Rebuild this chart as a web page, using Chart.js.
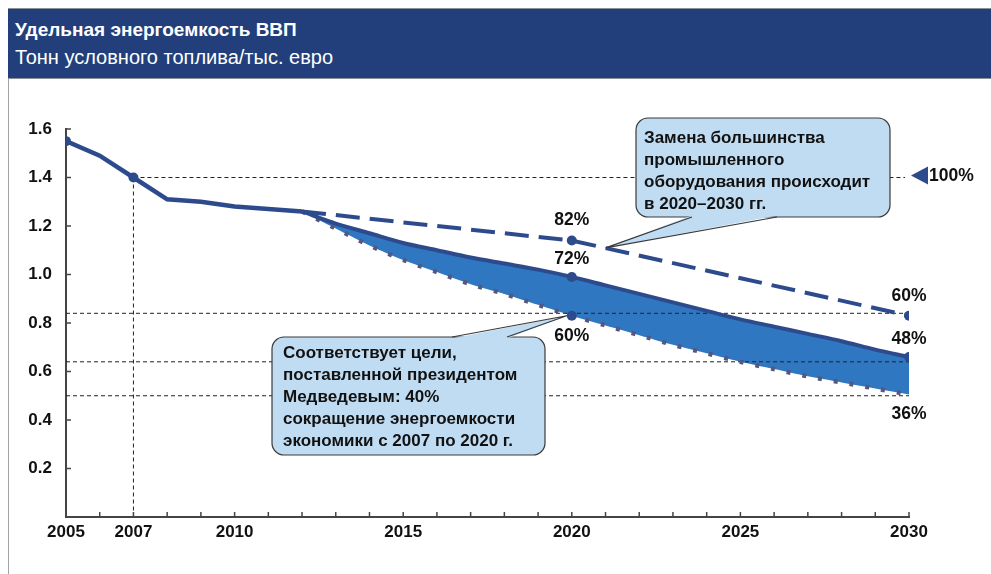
<!DOCTYPE html>
<html lang="ru">
<head>
<meta charset="utf-8">
<title>Удельная энергоемкость ВВП</title>
<script src="https://cdn.jsdelivr.net/npm/chart.js@4.4.1/dist/chart.umd.min.js"></script>
<style>
  body { margin: 0; background: #fff; font-family: "Liberation Sans", Arial, sans-serif; }
  #wrap { position: relative; width: 991px; height: 574px; overflow: hidden; }
  #chart { position: absolute; left: 0; top: 0; }
  #header {
    position: absolute; left: 8px; top: 8px; width: 983px; height: 69px;
    background: #223f7c; border-top: 1px solid #8c9099; border-bottom: 1px solid #8c9099;
    color: #fff;
  }
  #header .t { position: absolute; left: 7px; top: 10px; font-size: 19px; font-weight: bold; line-height: 22px; }
  #header .s { position: absolute; left: 7px; top: 36px; font-size: 20px; line-height: 24px; }
  #leftBorder { position: absolute; left: 8px; top: 79px; width: 1px; height: 495px; background: #a0a3a8; }
</style>
</head>
<body>
<div id="wrap">
  <canvas id="chart" width="991" height="574"></canvas>
  <div id="header">
    <div class="t">Удельная энергоемкость ВВП</div>
    <div class="s">Тонн условного топлива/тыс. евро</div>
  </div>
  <div id="leftBorder"></div>
</div>
<script>
// Data
const histYears = [2005, 2006, 2007, 2008, 2009, 2010, 2011, 2012];
const histValues = [1.55, 1.49, 1.40, 1.31, 1.30, 1.28, 1.27, 1.26];

const scenYears = [2012, 2013, 2014, 2015, 2016, 2017, 2018, 2019, 2020, 2021,
                   2022, 2023, 2024, 2025, 2026, 2027, 2028, 2029, 2030];
const highValues = [1.26, null, null, null, null, null, null, null, 1.14, null,
                    null, null, null, null, null, null, null, null, 0.83];
const midValues = [1.26, 1.21, 1.17, 1.13, 1.10, 1.07, 1.045, 1.02, 0.99, 0.955,
                   0.92, 0.885, 0.85, 0.815, 0.785, 0.755, 0.725, 0.69, 0.66];
const lowValues = [1.26, 1.19, 1.12, 1.06, 1.01, 0.96, 0.92, 0.875, 0.83, 0.79,
                   0.75, 0.71, 0.675, 0.64, 0.61, 0.58, 0.555, 0.53, 0.505];

const xLabels = [2005, 2007, 2010, 2015, 2020, 2025, 2030];
const yTicks = [0.2, 0.4, 0.6, 0.8, 1.0, 1.2, 1.4, 1.6];

// reference levels (dashed guides)
const baseYear = 2007;
const baseValue = 1.40;
const refLines = [0.84, 0.64, 0.50];

const markerYears = [2020, 2030];
const highPct = ['82%', '60%'];
const midPct = ['72%', '48%'];
const lowPct = ['60%', '36%'];

const noteTop = ['Замена большинства', 'промышленного', 'оборудования происходит', 'в 2020–2030 гг.'];
const noteBottom = ['Соответствует цели,', 'поставленной президентом', 'Медведевым: 40%',
                    'сокращение энергоемкости', 'экономики с 2007 по 2020 г.'];

const navy = '#2d4b8c';
const fillBlue = '#2f78c1';
const dotColor = '#55577f';
const FONT = '"Liberation Sans", Arial, sans-serif';

const toPoints = (xs, ys) => xs.map((x, i) => ({ x: x, y: ys[i] }));
const markerRadius = years => c => (c.raw && years.includes(c.raw.x)) ? 5 : 0;

function dashLine(ctx, x1, y1, x2, y2) {
    ctx.beginPath();
    ctx.moveTo(x1, y1);
    ctx.lineTo(x2, y2);
    ctx.stroke();
}

function drawCallout(ctx, box, lines, baseXs, tip, side) {
    ctx.save();
    ctx.fillStyle = '#c0dcf2';
    ctx.strokeStyle = '#3a3a3a';
    ctx.lineWidth = 1.2;
    ctx.beginPath();
    ctx.roundRect(box.x, box.y, box.w, box.h, 12);
    ctx.fill();
    ctx.stroke();
    const ey = side === 'bottom' ? box.y + box.h : box.y;
    const inset = side === 'bottom' ? -1.5 : 1.5;
    ctx.beginPath();
    ctx.moveTo(baseXs[0], ey + inset);
    ctx.lineTo(tip.x, tip.y);
    ctx.lineTo(baseXs[1], ey + inset);
    ctx.closePath();
    ctx.fill();
    ctx.beginPath();
    ctx.moveTo(baseXs[0], ey);
    ctx.lineTo(tip.x, tip.y);
    ctx.lineTo(baseXs[1], ey);
    ctx.stroke();

    ctx.fillStyle = '#111';
    ctx.font = 'bold 17px ' + FONT;
    ctx.textAlign = 'left';
    ctx.textBaseline = 'middle';
    lines.forEach((t, i) => ctx.fillText(t, box.x + box.px, box.y + box.py + i * 22));
    ctx.restore();
}

const extras = {
    id: 'extras',
    beforeDatasetsDraw(chart) {
        const { ctx, scales: { x, y } } = chart;
        ctx.save();
        ctx.strokeStyle = '#222';
        ctx.lineWidth = 1;
        ctx.setLineDash([4, 3]);
        const bx = x.getPixelForValue(baseYear);
        const by = y.getPixelForValue(baseValue);
        dashLine(ctx, bx, by, bx, y.bottom);
        dashLine(ctx, bx, by, x.right - 4, by);
        refLines.forEach(v => {
            const py = y.getPixelForValue(v);
            dashLine(ctx, x.left, py, x.right, py);
        });
        ctx.restore();
    },
    afterDatasetsDraw(chart) {
        const { ctx, scales: { x, y } } = chart;
        ctx.save();

        // minor tick marks pointing inwards
        ctx.strokeStyle = '#444';
        ctx.lineWidth = 1.5;
        for (let yr = 2006; yr <= 2030; yr++) {
            const px = x.getPixelForValue(yr);
            dashLine(ctx, px, y.bottom, px, y.bottom - 5);
        }
        yTicks.forEach(v => {
            const py = y.getPixelForValue(v);
            dashLine(ctx, x.left, py, x.left + 5, py);
        });

        // percent labels
        ctx.fillStyle = '#111';
        ctx.font = 'bold 17.5px ' + FONT;
        ctx.textAlign = 'center';
        ctx.textBaseline = 'middle';
        const valAt = (arr, yr) => arr[scenYears.indexOf(yr)];
        markerYears.forEach((yr, i) => {
            const px = x.getPixelForValue(yr);
            ctx.fillText(highPct[i], px, y.getPixelForValue(valAt(highValues, yr)) - 20);
            ctx.fillText(midPct[i], px, y.getPixelForValue(valAt(midValues, yr)) - 18);
            ctx.fillText(lowPct[i], px, y.getPixelForValue(valAt(lowValues, yr)) + 20);
        });

        // 100% marker at the base level
        const ty = y.getPixelForValue(baseValue) - 2;
        const tx = x.right + 2;
        ctx.fillStyle = navy;
        ctx.beginPath();
        ctx.moveTo(tx, ty);
        ctx.lineTo(tx + 17, ty - 9);
        ctx.lineTo(tx + 17, ty + 9);
        ctx.closePath();
        ctx.fill();
        ctx.fillStyle = '#111';
        ctx.font = 'bold 17.5px ' + FONT;
        ctx.textAlign = 'left';
        ctx.fillText('100%', tx + 18, ty + 1);
        ctx.restore();

        // callouts
        drawCallout(ctx, { x: 636, y: 118, w: 254, h: 99, px: 8, py: 20 }, noteTop, [692, 777],
            { x: x.getPixelForValue(2021), y: y.getPixelForValue(1.11) }, 'bottom');
        drawCallout(ctx, { x: 272, y: 337, w: 273, h: 118, px: 11, py: 16 }, noteBottom, [452, 507],
            { x: x.getPixelForValue(2019.85), y: y.getPixelForValue(0.83) }, 'top');
    }
};

const tickFont = { family: FONT, size: 17, weight: 'bold' };

new Chart(document.getElementById('chart'), {
    type: 'line',
    data: {
        datasets: [
            {
                label: 'История',
                data: toPoints(histYears, histValues),
                borderColor: navy,
                borderWidth: 4.5,
                pointRadius: markerRadius([2005, 2007]),
                pointBackgroundColor: navy,
                pointBorderWidth: 0,
                tension: 0
            },
            {
                label: 'Высокий',
                data: toPoints(scenYears, highValues),
                borderColor: navy,
                borderWidth: 4,
                borderDash: [24, 10],
                spanGaps: true,
                pointRadius: markerRadius(markerYears),
                pointBackgroundColor: navy,
                pointBorderWidth: 0,
                tension: 0
            },
            {
                label: 'Средний',
                data: toPoints(scenYears, midValues),
                borderColor: navy,
                borderWidth: 4,
                backgroundColor: fillBlue,
                fill: '+1',
                pointRadius: markerRadius(markerYears),
                pointBackgroundColor: navy,
                pointBorderWidth: 0,
                tension: 0.3
            },
            {
                label: 'Низкий',
                data: toPoints(scenYears, lowValues),
                borderColor: dotColor,
                borderWidth: 4.5,
                borderDash: [4, 12],
                pointRadius: markerRadius([2020]),
                pointBackgroundColor: navy,
                pointBorderWidth: 0,
                tension: 0.3
            }
        ]
    },
    options: {
        responsive: false,
        animation: false,
        devicePixelRatio: 1,
        layout: { padding: { top: 129, right: 82, left: 0, bottom: 0 } },
        plugins: {
            legend: { display: false },
            tooltip: { enabled: false },
            filler: { drawTime: 'beforeDatasetsDraw' }
        },
        scales: {
            x: {
                type: 'linear',
                min: 2005,
                max: 2030,
                afterBuildTicks: s => { s.ticks = xLabels.map(v => ({ value: v })); },
                afterFit: s => { s.height = 57; },
                grid: { display: false, drawTicks: false },
                border: { color: '#444', width: 2 },
                ticks: {
                    font: tickFont,
                    color: '#111',
                    padding: 5,
                    maxRotation: 0,
                    callback: v => String(v)
                }
            },
            y: {
                min: 0,
                max: 1.6,
                afterBuildTicks: s => { s.ticks = yTicks.map(v => ({ value: v })); },
                afterFit: s => { s.width = 66; },
                grid: { drawOnChartArea: false, drawTicks: false },
                border: { color: '#444', width: 2 },
                ticks: {
                    font: tickFont,
                    color: '#111',
                    padding: 14,
                    callback: v => v.toFixed(1)
                }
            }
        }
    },
    plugins: [extras]
});
</script>
</body>
</html>
